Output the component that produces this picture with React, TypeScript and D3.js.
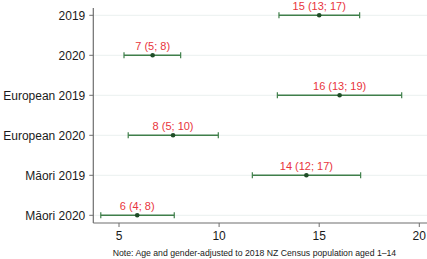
import React from "react";
import * as d3 from "d3";

const categories = ["2019", "2020", "European 2019", "European 2020", "Māori 2019", "Māori 2020"];
const estimates = [15.0, 6.68, 16.02, 7.7, 14.36, 5.91];
const lowerCI = [12.99, 5.25, 12.91, 5.46, 11.66, 4.09];
const upperCI = [17.02, 8.08, 19.12, 9.96, 17.07, 7.76];
const pointLabels = ["15 (13; 17)", "7 (5; 8)", "16 (13; 19)", "8 (5; 10)", "14 (12; 17)", "6 (4; 8)"];
const xTicks = [5, 10, 15, 20];
const note = "Note: Age and gender-adjusted to 2018 NZ Census population aged 1–14";

const W = 427;
const H = 259;
const FONT = "'Liberation Sans', Arial, Helvetica, sans-serif";

export default function App() {
  const plotLeft = 93.3;
  const plotRight = 427;
  const plotTop = 8;
  const plotBottom = 223;

  const x = d3.scaleLinear().domain([5, 20]).range([119, 419.3]);
  const y = d3.scalePoint<string>().domain(categories).range([15.3, 215.3]);

  const axisColor = "#6e6e6e";
  const barColor = "#3f7f4a";
  const pointColor = "#1f4d27";
  const labelColor = "#e8343c";
  const gridColor = "#eaf0ef";

  return (
    <svg
      width={W}
      height={H}
      style={{ position: "absolute", left: 0, top: 0, background: "#fff" }}
      fontFamily={FONT}
    >
      {/* gridlines */}
      {categories.map((c) => (
        <line key={"g" + c} x1={plotLeft + 1} x2={plotRight} y1={y(c)} y2={y(c)} stroke={gridColor} strokeWidth={1} />
      ))}
      {/* y axis */}
      <line x1={plotLeft} x2={plotLeft} y1={plotTop} y2={plotBottom} stroke={axisColor} strokeWidth={1.2} />
      {categories.map((c) => (
        <g key={"yt" + c}>
          <line x1={plotLeft - 4} x2={plotLeft} y1={y(c)} y2={y(c)} stroke={axisColor} strokeWidth={1} />
          <text x={plotLeft - 8} y={y(c)} dy="0.35em" textAnchor="end" fontSize={12} fill="#1a1a1a">
            {c}
          </text>
        </g>
      ))}
      {/* x axis */}
      <line x1={plotLeft} x2={plotRight} y1={plotBottom} y2={plotBottom} stroke={axisColor} strokeWidth={1.2} />
      {xTicks.map((t) => (
        <g key={"xt" + t}>
          <line x1={x(t)} x2={x(t)} y1={plotBottom} y2={plotBottom + 4} stroke={axisColor} strokeWidth={1} />
          <text x={x(t)} y={plotBottom + 13} dy="0.35em" textAnchor="middle" fontSize={12} fill="#1a1a1a">
            {t}
          </text>
        </g>
      ))}
      {/* error bars */}
      {categories.map((c, i) => {
        const yy = y(c) as number;
        const x0 = x(lowerCI[i]);
        const x1 = x(upperCI[i]);
        const xm = x(estimates[i]);
        return (
          <g key={"e" + c}>
            <line x1={x0} x2={x1} y1={yy} y2={yy} stroke={barColor} strokeWidth={1.4} />
            <line x1={x0} x2={x0} y1={yy - 3} y2={yy + 3} stroke={barColor} strokeWidth={1.2} />
            <line x1={x1} x2={x1} y1={yy - 3} y2={yy + 3} stroke={barColor} strokeWidth={1.2} />
            <circle cx={xm} cy={yy} r={2.3} fill={pointColor} />
            <text x={xm} y={yy - 9.5} dy="0.35em" textAnchor="middle" fontSize={11} fill={labelColor}>
              {pointLabels[i]}
            </text>
          </g>
        );
      })}
      {/* note */}
      <text x={112.7} y={253.3} dy="0.35em" textAnchor="start" fontSize={8.7} fill="#1a1a1a">
        {note}
      </text>
    </svg>
  );
}
